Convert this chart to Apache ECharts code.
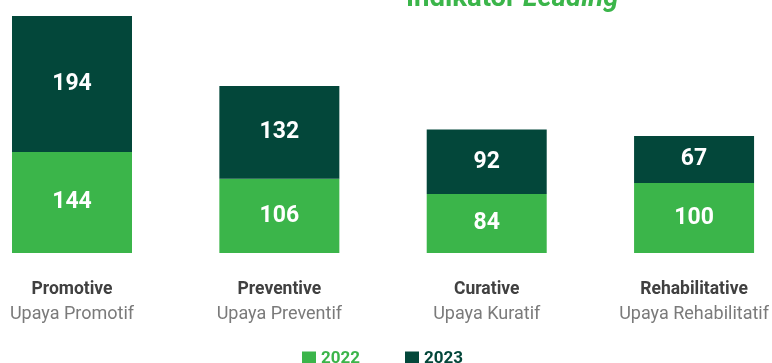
<!DOCTYPE html>
<html>
<head>
<meta charset="utf-8">
<script src="https://cdn.jsdelivr.net/npm/echarts@6/dist/echarts.min.js"></script>
<style>
  html, body { margin: 0; padding: 0; background: #ffffff; }
  #chart { width: 772px; height: 363px; }
</style>
</head>
<body>
<div id="chart"></div>
<script>
// Program categories (English name / Indonesian name)
const categories = ['Promotive', 'Preventive', 'Curative', 'Rehabilitative'];
const subLabels = ['Upaya Promotif', 'Upaya Preventif', 'Upaya Kuratif', 'Upaya Rehabilitatif'];
const seriesNames = ['2022', '2023'];
const values2022 = [144, 106, 84, 100];
const values2023 = [194, 132, 92, 67];

const GREEN = '#3bb54a';
const DARK = '#03473a';
const FONT = 'Roboto, "Noto Sans", sans-serif';

const chart = echarts.init(document.getElementById('chart'), null, { renderer: 'canvas' });

const valueLabel = {
  show: true,
  position: 'inside',
  color: '#ffffff',
  fontFamily: FONT,
  fontWeight: 'bold',
  fontSize: 23
};

chart.setOption({
  animation: false,
  backgroundColor: '#ffffff',
  graphic: [{
    type: 'text',
    left: 406,
    top: -15,
    style: {
      text: '{a|Indikator }{b|Leading}',
      rich: {
        a: { fontFamily: FONT, fontWeight: 'bold', fontSize: 27.5, fill: GREEN, color: GREEN },
        b: { fontFamily: FONT, fontWeight: 'bold', fontStyle: 'italic', fontSize: 27.5, fill: GREEN, color: GREEN }
      }
    }
  }],
  legend: {
    left: 302,
    top: 350,
    padding: 0,
    itemWidth: 14,
    itemHeight: 14,
    itemGap: 45,
    icon: 'rect',
    data: [
      { name: seriesNames[0], textStyle: { color: GREEN } },
      { name: seriesNames[1], textStyle: { color: DARK } }
    ],
    textStyle: { fontFamily: FONT, fontWeight: 'bold', fontSize: 17 }
  },
  // boundaryGap off so that category ticks sit 208px apart across the canvas
  grid: { left: 72, right: 76, top: 16, bottom: 110 },
  xAxis: {
    type: 'category',
    data: categories,
    boundaryGap: false,
    axisLine: { show: false },
    axisTick: { show: false },
    axisLabel: {
      margin: 25,
      interval: 0,
      formatter: (v, i) => '{b|' + v + '}\n{s|' + subLabels[i] + '}',
      rich: {
        b: { fontFamily: FONT, fontWeight: 'bold', fontSize: 17.5, color: '#404040', lineHeight: 24 },
        s: { fontFamily: FONT, fontSize: 18, color: '#7a7a7a', lineHeight: 24 }
      }
    }
  },
  yAxis: { type: 'value', min: 0, max: 338, show: false, splitLine: { show: false } },
  series: [
    {
      name: seriesNames[0], type: 'bar', stack: 'total', barWidth: 120, clip: false,
      itemStyle: { color: GREEN }, label: valueLabel, data: values2022
    },
    {
      name: seriesNames[1], type: 'bar', stack: 'total', barWidth: 120, clip: false,
      itemStyle: { color: DARK }, label: valueLabel, data: values2023
    }
  ]
});
</script>
</body>
</html>
